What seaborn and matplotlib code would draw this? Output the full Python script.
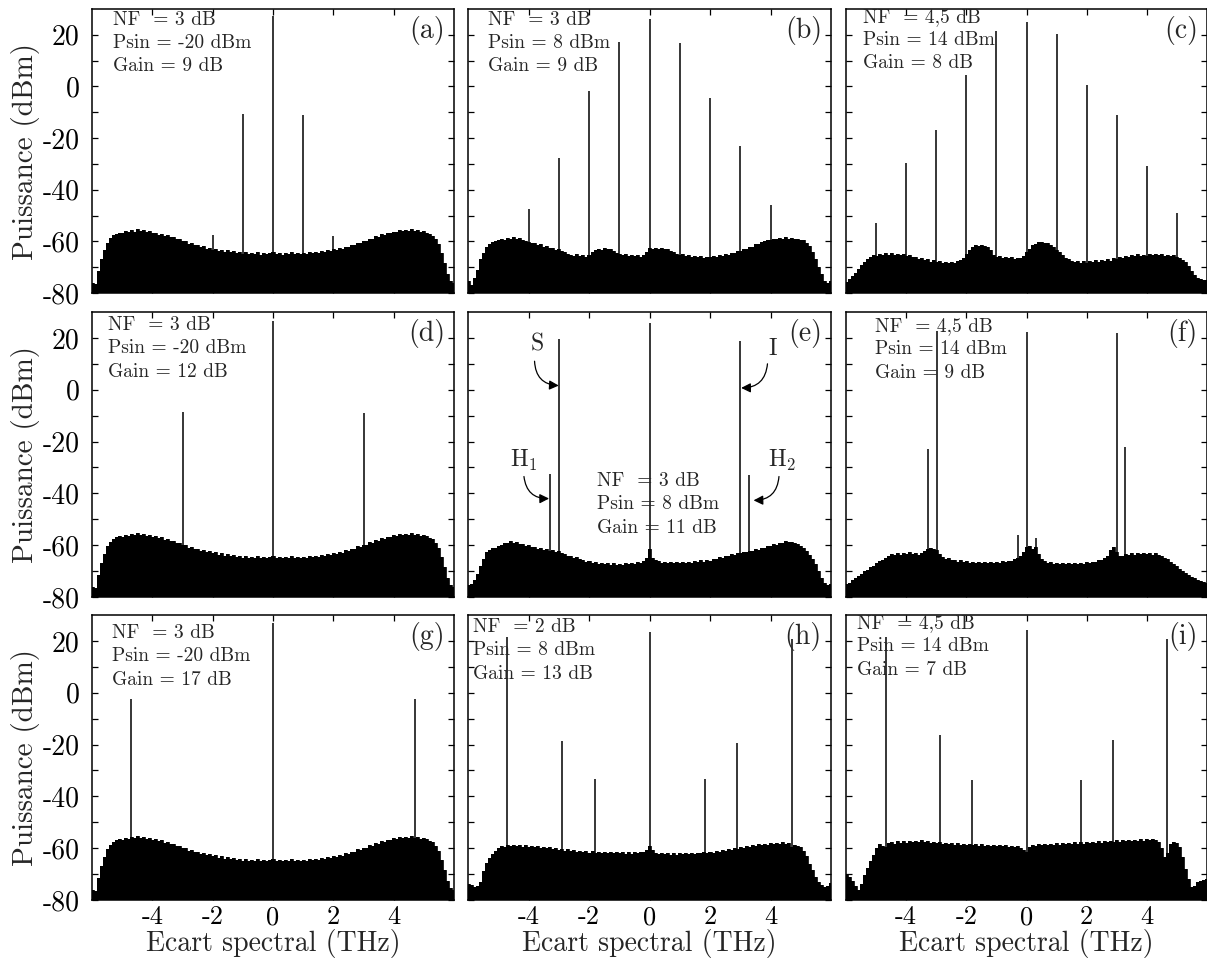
import numpy as np
import pandas as pd
import matplotlib
matplotlib.use("Agg")
import matplotlib.pyplot as plt
import seaborn as sns

# ---------------------------------------------------------------------------
# Spectral offset grid of the noise-floor samples (THz)
freq = np.round(np.arange(121) * 0.1 - 6.0, 1)

# Noise floor (dBm) of each measured spectrum, one value per 0.1 THz
floor_adg = [
    -76.0, -76.5, -71.5, -67.0, -63.5, -60.5, -58.8, -57.6, -57.0, -56.6,
    -56.9, -56.0, -56.4, -55.6, -56.2, -55.4, -56.0, -55.7, -56.5, -56.1,
    -56.9, -56.6, -57.4, -57.0, -57.9, -57.6, -58.5, -58.2, -59.2, -59.0,
    -60.0, -59.8, -60.9, -60.6, -61.6, -61.3, -62.2, -61.9, -62.8, -62.4,
    -63.2, -62.8, -63.6, -63.2, -64.1, -63.5, -64.3, -63.8, -64.6, -64.0,
    -64.8, -64.2, -65.0, -64.4, -64.9, -64.3, -65.1, -64.5, -65.0, -64.6,
    -64.2, -64.9, -64.4, -65.1, -64.6, -65.0, -64.3, -64.9, -64.4, -65.0,
    -64.5, -64.8, -64.1, -64.7, -64.0, -64.5, -63.8, -64.2, -63.4, -63.9,
    -63.1, -63.3, -62.6, -62.9, -62.0, -62.2, -61.3, -61.5, -60.5, -60.7,
    -59.8, -59.9, -58.9, -59.0, -58.1, -58.2, -57.3, -57.5, -56.7, -56.9,
    -56.2, -56.5, -55.7, -56.1, -55.5, -56.0, -55.4, -56.0, -55.6, -56.3,
    -55.9, -56.6, -57.2, -57.8, -59.0, -61.0, -64.5, -68.5, -72.5, -75.5,
    -76.0,
]
floor_b = [
    -75.5, -76.8, -74.0, -71.0, -67.0, -64.5, -62.0, -61.2, -60.4, -60.0,
    -59.4, -59.0, -59.5, -58.6, -58.9, -58.3, -59.0, -58.8, -59.6, -59.9,
    -60.3, -60.8, -60.6, -61.4, -61.1, -62.0, -61.8, -62.6, -62.4, -63.3,
    -63.0, -63.8, -64.2, -64.8, -65.1, -65.6, -65.0, -65.8, -65.3, -66.0,
    -65.2, -64.2, -63.5, -62.8, -63.2, -62.6, -63.0, -62.9, -63.6, -64.5,
    -64.9, -65.4, -65.0, -65.6, -65.1, -65.8, -65.3, -65.9, -65.4, -64.0,
    -62.5, -62.8, -62.4, -63.0, -62.6, -63.1, -62.9, -63.6, -64.3, -65.0,
    -65.4, -65.0, -65.7, -65.3, -66.0, -65.5, -66.2, -65.8, -66.4, -65.9,
    -66.2, -65.7, -66.0, -65.4, -65.6, -65.0, -65.2, -64.4, -64.6, -63.8,
    -63.9, -63.1, -63.0, -62.2, -62.0, -61.2, -61.0, -60.3, -60.0, -59.5,
    -59.6, -59.0, -59.2, -58.6, -59.1, -58.5, -59.0, -58.7, -59.2, -58.9,
    -59.4, -59.3, -60.5, -61.8, -64.0, -66.8, -69.8, -72.8, -75.5, -76.3,
    -75.5,
]
floor_c = [
    -75.8, -74.5, -73.6, -72.2, -70.8, -69.3, -68.0, -66.8, -66.0, -65.4,
    -65.6, -65.0, -65.3, -64.7, -65.2, -64.6, -65.1, -64.8, -65.4, -65.0,
    -65.6, -65.3, -65.9, -66.2, -66.8, -66.5, -67.3, -67.0, -67.8, -67.4,
    -68.0, -67.6, -68.3, -67.8, -68.4, -67.9, -68.2, -67.6, -67.2, -66.5,
    -65.0, -63.2, -62.0, -61.5, -61.8, -61.3, -61.9, -62.2, -63.5, -65.2,
    -66.0, -65.7, -66.4, -66.0, -66.6, -66.2, -66.7, -66.3, -66.5, -65.5,
    -64.0, -62.8, -61.6, -61.0, -60.4, -60.1, -60.5, -60.8, -61.5, -62.3,
    -63.3, -64.3, -65.4, -66.3, -67.0, -67.5, -68.0, -67.5, -68.2, -67.6,
    -68.3, -67.7, -68.1, -67.3, -68.0, -67.2, -67.7, -66.9, -67.5, -66.6,
    -67.0, -66.2, -66.5, -65.6, -66.0, -65.3, -65.8, -65.0, -65.6, -65.1,
    -65.5, -64.9, -65.4, -64.8, -65.3, -64.9, -65.5, -65.1, -65.8, -65.4,
    -66.0, -66.5, -67.2, -68.0, -69.5, -71.5, -73.2, -74.0, -74.5, -74.8,
    -75.0,
]
floor_e = [
    -75.5, -75.0, -73.5, -71.0, -68.2, -65.3, -62.8, -61.8, -61.2, -60.9,
    -60.2, -60.0, -59.3, -59.0, -58.3, -59.0, -58.8, -59.6, -59.5, -60.2,
    -60.0, -60.8, -60.6, -61.4, -61.2, -61.9, -61.5, -62.2, -61.9, -62.7,
    -62.4, -63.2, -63.4, -64.1, -64.0, -64.8, -64.7, -65.5, -65.6, -66.3,
    -66.2, -66.9, -66.6, -67.3, -66.8, -67.4, -66.9, -67.5, -67.0, -67.6,
    -67.1, -67.5, -66.9, -67.4, -66.8, -67.2, -66.6, -66.9, -66.0, -65.0,
    -61.5, -64.8, -65.8, -66.2, -66.8, -66.3, -66.9, -66.4, -67.0, -66.5,
    -67.0, -66.4, -66.9, -66.3, -66.8, -66.2, -66.6, -65.9, -66.3, -65.6,
    -66.0, -65.2, -65.5, -64.7, -64.9, -64.1, -64.3, -63.5, -63.8, -63.0,
    -63.2, -62.5, -62.8, -62.1, -62.4, -61.6, -61.8, -61.0, -61.1, -60.3,
    -60.4, -59.6, -59.8, -59.0, -59.2, -58.4, -58.7, -58.6, -59.3, -59.5,
    -60.4, -61.0, -62.3, -63.8, -65.5, -67.2, -69.8, -72.6, -74.6, -75.5,
    -75.0,
]
floor_f = [
    -75.0, -74.5, -73.6, -72.8, -71.8, -71.0, -70.0, -69.4, -68.6, -68.0,
    -67.0, -66.2, -65.6, -64.8, -64.2, -63.5, -63.8, -63.0, -63.6, -62.9,
    -63.5, -62.8, -63.4, -62.9, -63.6, -63.0, -62.4, -61.6, -61.2, -61.5,
    -61.8, -63.5, -64.4, -65.3, -65.0, -65.8, -65.6, -66.3, -65.9, -66.6,
    -66.2, -66.8, -66.3, -66.9, -66.4, -67.0, -66.5, -67.0, -66.4, -66.9,
    -66.3, -66.8, -66.2, -66.6, -66.0, -66.2, -65.4, -64.8, -64.0, -62.5,
    -60.8, -60.5, -61.5, -60.7, -63.5, -65.5, -66.2, -66.8, -66.5, -67.1,
    -66.7, -67.3, -66.8, -67.4, -66.9, -67.4, -66.8, -67.3, -66.7, -67.1,
    -66.5, -66.9, -66.3, -66.5, -65.8, -65.9, -65.0, -64.2, -62.0, -60.8,
    -62.5, -64.0, -64.2, -63.5, -63.8, -63.1, -63.6, -63.0, -63.5, -62.9,
    -63.4, -63.0, -63.6, -63.2, -63.8, -64.0, -64.8, -65.5, -66.4, -67.2,
    -68.0, -69.0, -69.8, -70.6, -71.4, -72.2, -72.8, -73.4, -73.9, -74.2,
    -74.5,
]
floor_h = [
    -73.8, -74.4, -74.9, -74.6, -73.2, -69.0, -65.8, -63.8, -62.4, -61.0,
    -59.8, -59.2, -59.6, -58.8, -59.3, -58.6, -59.2, -58.7, -59.4, -58.9,
    -59.5, -59.0, -59.7, -59.2, -59.8, -59.4, -60.0, -59.6, -60.3, -59.9,
    -60.6, -60.3, -60.9, -60.5, -61.2, -60.8, -61.4, -61.0, -61.6, -61.1,
    -61.7, -61.2, -61.8, -61.3, -61.9, -61.4, -61.9, -61.4, -62.0, -61.5,
    -62.0, -61.5, -62.1, -61.6, -62.1, -61.6, -62.0, -61.5, -61.3, -60.6,
    -59.0, -60.8, -61.8, -62.3, -61.8, -62.4, -61.9, -62.5, -62.0, -62.5,
    -62.0, -62.4, -61.9, -62.3, -61.8, -62.2, -61.7, -62.0, -61.5, -61.9,
    -61.4, -61.7, -61.1, -61.4, -60.8, -61.0, -60.4, -60.6, -60.0, -60.2,
    -59.6, -59.8, -59.2, -59.4, -58.8, -59.1, -58.5, -58.8, -58.2, -58.6,
    -58.0, -58.4, -57.9, -58.3, -57.8, -58.3, -57.9, -59.5, -58.6, -59.0,
    -59.6, -61.0, -63.2, -66.0, -68.5, -71.0, -73.0, -74.2, -74.9, -74.5,
    -73.6,
]
floor_i = [
    -70.0, -71.0, -72.5, -74.5, -76.0, -74.0, -70.5, -67.5, -65.0, -62.5,
    -60.0, -58.3, -59.2, -59.6, -58.0, -57.6, -58.2, -57.4, -58.0, -57.3,
    -57.9, -57.2, -57.8, -57.1, -57.7, -57.0, -57.6, -57.2, -57.9, -57.5,
    -58.1, -57.7, -58.3, -57.9, -58.5, -58.0, -58.6, -58.1, -58.7, -58.2,
    -58.8, -58.3, -58.9, -58.4, -59.0, -58.5, -59.0, -58.6, -59.1, -58.7,
    -59.2, -58.8, -59.3, -58.9, -59.4, -59.0, -59.5, -59.3, -60.0, -60.8,
    -61.5, -59.5, -58.6, -59.0, -58.4, -58.9, -58.3, -58.8, -58.2, -58.7,
    -58.1, -58.6, -58.0, -58.5, -57.9, -58.4, -57.8, -58.3, -57.7, -58.2,
    -57.6, -58.1, -57.5, -58.0, -57.4, -57.9, -57.3, -57.8, -57.2, -57.6,
    -57.0, -57.5, -56.9, -57.4, -56.8, -57.3, -56.7, -57.2, -56.6, -57.1,
    -56.6, -57.0, -56.5, -57.0, -57.5, -60.0, -63.5, -62.0, -58.5, -57.6,
    -57.9, -59.5, -63.5, -68.0, -72.0, -75.0, -74.5, -73.0, -72.6, -72.3,
    -72.0,
]

# Spectral lines: offsets (THz) and peak powers (dBm)
lines_a_f = [-2.0, -1.0, 0.0, 1.0, 2.0]
lines_a_p = [-57.5, -10.5, 27.2, -11.1, -58.1]
lines_b_f = [-4.0, -3.0, -2.0, -1.0, 0.0, 1.0, 2.0, 3.0, 4.0]
lines_b_p = [-47.4, -27.7, -1.9, 17.3, 26.2, 16.7, -4.6, -23.0, -45.9]
lines_c_f = [-5.0, -4.0, -3.0, -2.0, -1.0, 0.0, 1.0, 2.0, 3.0, 4.0, 5.0]
lines_c_p = [-52.7, -29.8, -16.7, 4.3, 21.3, 24.8, 20.5, 0.7, -10.9, -30.7, -49.1]
lines_d_f = [-3.0, 0.0, 3.0]
lines_d_p = [-8.5, 26.4, -8.8]
lines_e_f = [-3.3, -3.0, 0.0, 3.0, 3.3]
lines_e_p = [-32.7, 19.4, 25.7, 18.7, -33.1]
lines_f_f = [-3.26, -2.98, -0.28, 0.0, 0.31, 3.0, 3.27]
lines_f_p = [-22.8, 22.8, -56.2, 22.4, -57.3, 21.9, -22.2]
lines_g_f = [-4.7, 0.0, 4.7]
lines_g_p = [-2.4, 27.0, -2.4]
lines_h_f = [-4.7, -2.89, -1.81, 0.0, 1.83, 2.89, 4.72]
lines_h_p = [21.7, -18.8, -33.2, 23.5, -33.2, -19.5, 20.9]
lines_i_f = [-4.68, -2.89, -1.82, 0.0, 1.8, 2.87, 4.66]
lines_i_p = [21.7, -16.5, -33.8, 24.2, -33.8, -18.1, 20.6]

# Amplifier parameters written in each panel
params_a = ["NF  = 3 dB", "Psin = -20 dBm", "Gain = 9 dB"]
params_b = ["NF  = 3 dB", "Psin = 8 dBm", "Gain = 9 dB"]
params_c = ["NF  = 4,5 dB", "Psin = 14 dBm", "Gain = 8 dB"]
params_d = ["NF  = 3 dB", "Psin = -20 dBm", "Gain = 12 dB"]
params_e = ["NF  = 3 dB", "Psin = 8 dBm", "Gain = 11 dB"]
params_f = ["NF  = 4,5 dB", "Psin = 14 dBm", "Gain = 9 dB"]
params_g = ["NF  = 3 dB", "Psin = -20 dBm", "Gain = 17 dB"]
params_h = ["NF  = 2 dB", "Psin = 8 dBm", "Gain = 13 dB"]
params_i = ["NF  = 4,5 dB", "Psin = 14 dBm", "Gain = 7 dB"]

panel_tags = ["a", "b", "c", "d", "e", "f", "g", "h", "i"]
x_ticks = [-4, -2, 0, 2, 4]
y_ticks = [-80, -60, -40, -20, 0, 20]
y_minor = [-70, -50, -30, -10, 10]
x_label = "Ecart spectral (THz)"
y_label = "Puissance (dBm)"

panels = {
    "a": (floor_adg, lines_a_f, lines_a_p, params_a),
    "b": (floor_b, lines_b_f, lines_b_p, params_b),
    "c": (floor_c, lines_c_f, lines_c_p, params_c),
    "d": (floor_adg, lines_d_f, lines_d_p, params_d),
    "e": (floor_e, lines_e_f, lines_e_p, params_e),
    "f": (floor_f, lines_f_f, lines_f_p, params_f),
    "g": (floor_adg, lines_g_f, lines_g_p, params_g),
    "h": (floor_h, lines_h_f, lines_h_p, params_h),
    "i": (floor_i, lines_i_f, lines_i_p, params_i),
}

# ---------------------------------------------------------------------------
sns.set_theme(style="ticks")
plt.rcParams.update({
    "font.family": ["cmr10", "DejaVu Serif"],
    "mathtext.fontset": "cm",
    "axes.unicode_minus": False,
    "axes.formatter.use_mathtext": True,
    "axes.edgecolor": "black",
    "axes.linewidth": 1.1,
    "xtick.color": "black",
    "ytick.color": "black",
})

W, H = 1207, 959
fig = plt.figure(figsize=(W / 100, H / 100), dpi=100)
fig.patch.set_facecolor("white")

col_px = [(92, 362), (468, 363), (846, 361)]
row_px = [(9, 284), (312, 285), (615, 285)]

# baseline of the first parameter line, in axes fraction
text_pos = {
    "a": (0.058, 0.944), "b": (0.056, 0.944), "c": (0.048, 0.955),
    "d": (0.045, 0.937), "e": (0.354, 0.390), "f": (0.080, 0.933),
    "g": (0.054, 0.920), "h": (0.015, 0.940), "i": (0.030, 0.955),
}
line_step = 0.082

for k, tag in enumerate(panel_tags):
    r, c = divmod(k, 3)
    left, width = col_px[c]
    top, height = row_px[r]
    ax = fig.add_axes([left / W, 1 - (top + height) / H, width / W, height / H])
    floor, lf, lp, params = panels[tag]

    df = pd.DataFrame({"freq": freq, "power": floor})
    ax.fill_between(df["freq"], -80, df["power"], step="mid",
                    color="black", linewidth=0)
    sns.lineplot(data=df, x="freq", y="power", ax=ax, color="black",
                 linewidth=0.6, drawstyle="steps-mid", legend=False)
    ax.vlines(lf, -80, lp, color="black", linewidth=1.1)

    ax.set_xlim(-6, 6)
    ax.set_ylim(-80, 30)
    ax.set_xticks(x_ticks)
    ax.set_yticks(y_ticks)
    ax.set_yticks(y_minor, minor=True)
    ax.tick_params(which="both", direction="in", top=True, right=True,
                   length=4, width=0.9, labelsize=20)
    ax.tick_params(axis="y", pad=9)
    ax.tick_params(axis="x", pad=4, labelsize=19)
    ax.set_xlabel("")
    ax.set_ylabel("")

    if c == 0:
        ax.set_yticklabels([str(v) for v in y_ticks])
        ax.set_ylabel(y_label, fontsize=21, labelpad=2)
    else:
        ax.set_yticklabels([])
    if r == 2:
        ax.set_xticklabels([str(v) for v in x_ticks])
        ax.set_xlabel(x_label, fontsize=20, labelpad=0)
    else:
        ax.set_xticklabels([])

    tx, ty = text_pos[tag]
    for j, line in enumerate(params):
        ax.text(tx, ty - j * line_step, line, transform=ax.transAxes,
                fontsize=14, ha="left", va="baseline")
    ax.text(0.975, 0.925, f"({tag})", transform=ax.transAxes,
            fontsize=20, ha="right", va="center")

    if tag == "e":
        arrow = dict(arrowstyle="-|>", color="black", lw=0.9,
                     mutation_scale=14, shrinkA=0, shrinkB=0)
        ax.text(-3.72, 17.5, "S", fontsize=17, ha="center", va="center")
        ax.annotate("", xy=(-3.0, 1.6), xytext=(-3.8, 11.0),
                    arrowprops=dict(arrow, connectionstyle="arc3,rad=0.45"))
        ax.text(4.06, 15.8, "I", fontsize=17, ha="center", va="center")
        ax.annotate("", xy=(3.03, 0.7), xytext=(3.9, 10.0),
                    arrowprops=dict(arrow, connectionstyle="arc3,rad=-0.45"))
        ax.text(-4.17, -27.5, r"H$_{1}$", fontsize=17, ha="center", va="center")
        ax.annotate("", xy=(-3.32, -42.0), xytext=(-4.15, -33.5),
                    arrowprops=dict(arrow, connectionstyle="arc3,rad=0.45"))
        ax.text(4.4, -27.5, r"H$_{2}$", fontsize=17, ha="center", va="center")
        ax.annotate("", xy=(3.44, -42.7), xytext=(4.28, -33.5),
                    arrowprops=dict(arrow, connectionstyle="arc3,rad=-0.45"))

    for side in ax.spines.values():
        side.set_linewidth(1.1)
        side.set_color("black")

fig.savefig("out.png", dpi=100, facecolor="white")
